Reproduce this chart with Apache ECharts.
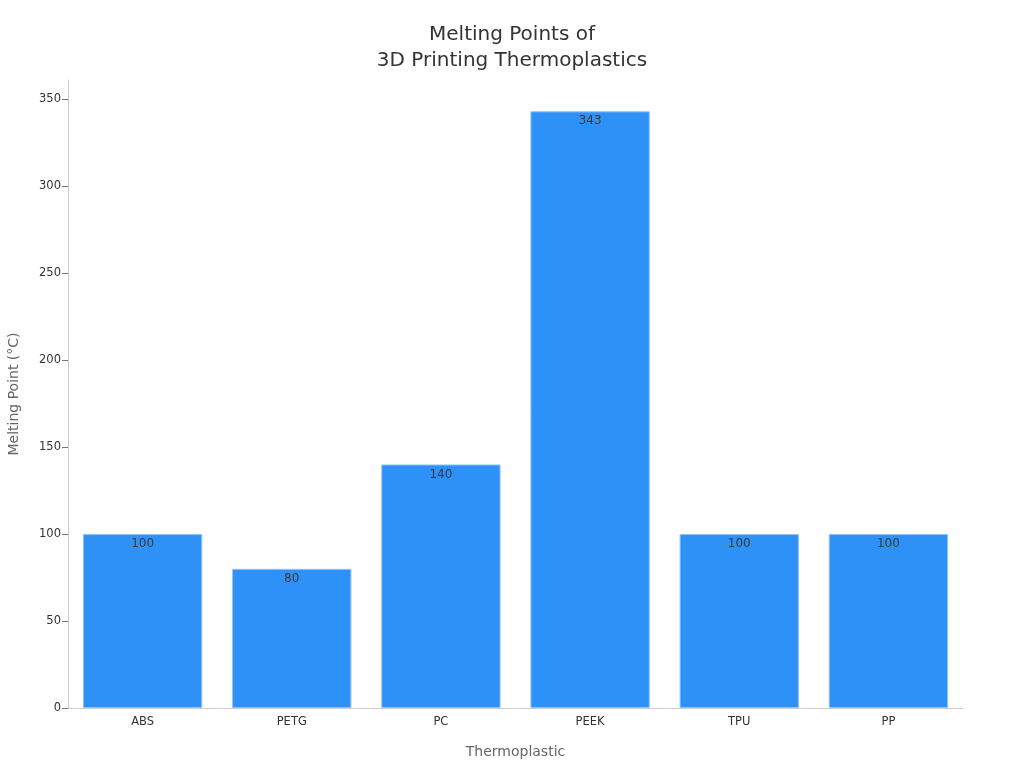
<!DOCTYPE html>
<html>
<head>
<meta charset="utf-8">
<script src="https://cdn.jsdelivr.net/npm/echarts@6/dist/echarts.min.js"></script>
<style>
  html, body { margin: 0; padding: 0; background: #fff; }
  #chart { width: 1024px; height: 768px; }
</style>
</head>
<body>
<div id="chart"></div>
<script>
var materials = ['ABS', 'PETG', 'PC', 'PEEK', 'TPU', 'PP'];
var meltingPoints = [100, 80, 140, 343, 100, 100];
var yTicks = [0, 50, 100, 150, 200, 250, 300, 350];

var chart = echarts.init(document.getElementById('chart'));

var option = {
    animation: false,
    textStyle: { fontFamily: 'DejaVu Sans' },
    title: {
        text: 'Melting Points of\n3D Printing Thermoplastics',
        left: 'center',
        top: 17,
        textStyle: {
            fontFamily: 'DejaVu Sans',
            fontSize: 20,
            fontWeight: 'normal',
            color: '#333',
            lineHeight: 26
        }
    },
    grid: {
        left: 68,
        right: 61,
        top: 80,
        bottom: 60,
        containLabel: false,
        outerBoundsMode: 'none'
    },
    xAxis: {
        type: 'category',
        data: materials,
        name: 'Thermoplastic',
        nameLocation: 'middle',
        nameGap: 37,
        nameTextStyle: { fontSize: 14, color: '#666' },
        axisLine: { lineStyle: { color: '#ccc' } },
        axisTick: { alignWithLabel: true, length: 5, lineStyle: { color: '#444' } },
        axisLabel: { fontSize: 11.5, color: '#333', margin: 8 }
    },
    yAxis: {
        type: 'value',
        min: 0,
        max: 361,
        interval: 50,
        name: 'Melting Point (°C)',
        nameLocation: 'middle',
        nameGap: 47,
        nameTextStyle: { fontSize: 14, color: '#666' },
        axisLine: { show: true, lineStyle: { color: '#ccc' } },
        axisTick: { show: true, length: 6, lineStyle: { color: '#777' }, customValues: yTicks },
        axisLabel: { fontSize: 11.5, color: '#333', margin: 7, customValues: yTicks },
        splitLine: { show: false }
    },
    series: [{
        type: 'bar',
        data: meltingPoints,
        barWidth: '80%',
        itemStyle: {
            color: '#2e91f8',
            borderColor: '#8fc3fb',
            borderWidth: 1
        },
        label: {
            show: true,
            position: 'insideTop',
            distance: 4,
            fontSize: 12,
            color: '#3a3a3a'
        }
    }]
};

chart.setOption(option);
</script>
</body>
</html>
